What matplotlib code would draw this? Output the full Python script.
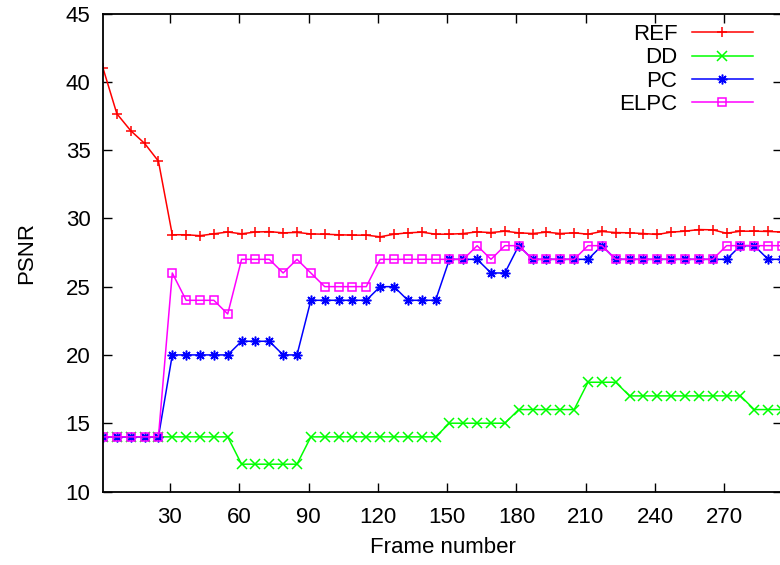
import matplotlib
matplotlib.use("Agg")
import matplotlib.pyplot as plt

plt.rcParams['font.family'] = ['Liberation Sans', 'DejaVu Sans']

frames = [1, 7, 13, 19, 25, 31, 37, 43, 49, 55,
          61, 67, 73, 79, 85, 91, 97, 103, 109, 115,
          121, 127, 133, 139, 145, 151, 157, 163, 169, 175,
          181, 187, 193, 199, 205, 211, 217, 223, 229, 235,
          241, 247, 253, 259, 265, 271, 277, 283, 289, 295]

ref = [41.0, 37.66, 36.42, 35.49, 34.19, 28.8, 28.8, 28.73, 28.87, 29.0,
       28.87, 29.0, 29.03, 28.94, 28.97, 28.86, 28.84, 28.8, 28.77, 28.77,
       28.65, 28.84, 28.94, 28.99, 28.84, 28.84, 28.89, 29.01, 28.96, 29.06,
       28.94, 28.89, 28.99, 28.89, 28.94, 28.84, 29.04, 28.96, 28.94, 28.89,
       28.82, 28.99, 29.06, 29.18, 29.16, 28.91, 29.06, 29.06, 29.04, 29.0]

dd = [14, 14, 14, 14, 14, 14, 14, 14, 14, 14,
      12, 12, 12, 12, 12, 14, 14, 14, 14, 14,
      14, 14, 14, 14, 14, 15, 15, 15, 15, 15,
      16, 16, 16, 16, 16, 18, 18, 18, 17, 17,
      17, 17, 17, 17, 17, 17, 17, 16, 16, 16]

pc = [14, 14, 14, 14, 14, 20, 20, 20, 20, 20,
      21, 21, 21, 20, 20, 24, 24, 24, 24, 24,
      25, 25, 24, 24, 24, 27, 27, 27, 26, 26,
      28, 27, 27, 27, 27, 27, 28, 27, 27, 27,
      27, 27, 27, 27, 27, 27, 28, 28, 27, 27]

elpc = [14, 14, 14, 14, 14, 26, 24, 24, 24, 23,
        27, 27, 27, 26, 27, 26, 25, 25, 25, 25,
        27, 27, 27, 27, 27, 27, 27, 28, 27, 28,
        28, 27, 27, 27, 27, 28, 28, 27, 27, 27,
        27, 27, 27, 27, 27, 28, 28, 28, 28, 28]

fig = plt.figure(figsize=(7.8, 5.65), dpi=100)
ax = fig.add_axes([103 / 780, 1 - 491.5 / 565, 679 / 780, 478 / 565])

ax.plot(frames, ref, color='#ff0000', lw=1.1, marker='+', ms=7, mew=1.1, label='REF')
ax.plot(frames, dd, color='#00ff00', lw=1.1, marker='x', ms=6.5, mew=1.1, label='DD')
ax.plot(frames, pc, color='#0000ff', lw=1.1, marker=(8, 2, 0), ms=7, mew=1.1, label='PC')
ax.plot(frames, elpc, color='#ff00ff', lw=1.1, marker='s', ms=5.5, mew=1.1,
        mfc='none', label='ELPC')

ax.set_xlim(1, 295)
ax.set_ylim(10, 45)
ax.set_xticks(range(30, 271, 30))
ax.set_yticks(range(10, 46, 5))
ax.tick_params(direction='in', length=6.5, width=1, labelsize=16, pad=9,
               top=True, right=True)
ax.tick_params(axis='x', pad=11)
for s in ax.spines.values():
    s.set_linewidth(1.3)

ax.set_xlabel('Frame number', fontsize=16)
ax.set_ylabel('PSNR', fontsize=16)
ax.xaxis.set_label_coords(0.5, -0.095)
ax.yaxis.set_label_coords(-0.097, 0.5)

ax.legend(loc='upper right', bbox_to_anchor=(0.98, 1.01), frameon=False,
          markerfirst=False, fontsize=16, handlelength=2.75, handletextpad=0.65,
          labelspacing=0.1, borderpad=0.2)

fig.savefig('out.png', dpi=100)
